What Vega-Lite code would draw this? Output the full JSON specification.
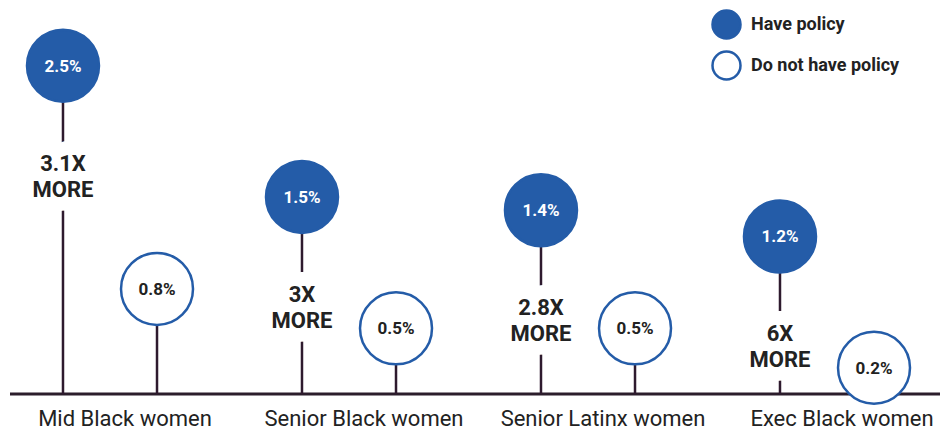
{
  "$schema": "https://vega.github.io/schema/vega-lite/v6.json",
  "width": 930,
  "height": 394,
  "autosize": {"type": "none"},
  "padding": {"left": 10, "top": 0, "right": 2, "bottom": 41},
  "config": {"view": {"stroke": null}, "font": "Roboto"},
  "data": {
    "values": [
      {"group": "Mid Black women", "policy": "Have policy", "value": 2.5, "label": "2.5%", "more": "3.1X\nMORE"},
      {"group": "Mid Black women", "policy": "Do not have policy", "value": 0.8, "label": "0.8%"},
      {"group": "Senior Black women", "policy": "Have policy", "value": 1.5, "label": "1.5%", "more": "3X\nMORE"},
      {"group": "Senior Black women", "policy": "Do not have policy", "value": 0.5, "label": "0.5%"},
      {"group": "Senior Latinx women", "policy": "Have policy", "value": 1.4, "label": "1.4%", "more": "2.8X\nMORE"},
      {"group": "Senior Latinx women", "policy": "Do not have policy", "value": 0.5, "label": "0.5%"},
      {"group": "Exec Black women", "policy": "Have policy", "value": 1.2, "label": "1.2%", "more": "6X\nMORE"},
      {"group": "Exec Black women", "policy": "Do not have policy", "value": 0.2, "label": "0.2%"}
    ]
  },
  "layer": [
    {
      "data": {"values": [{"base": 0}]},
      "mark": {"type": "rule", "color": "#2b1d2b", "strokeWidth": 3},
      "encoding": {
        "y": {"field": "base", "type": "quantitative", "scale": {"domain": [0, 2.85]}, "axis": null}
      }
    },
    {
      "mark": {"type": "rule", "color": "#2e1a2e", "strokeWidth": 2.5},
      "encoding": {
        "x": {
          "field": "group", "type": "nominal",
          "sort": ["Mid Black women", "Senior Black women", "Senior Latinx women", "Exec Black women"],
          "scale": {"range": [-19.5, 936.5], "paddingInner": 0, "paddingOuter": 0},
          "axis": {"title": null, "domain": false, "ticks": false, "labelFontSize": 22, "labelColor": "#222222", "labelPadding": 14, "labelOffset": 15, "labelAngle": 0, "labelFont": "Roboto", "labelLimit": 0}
        },
        "xOffset": {"field": "policy", "type": "nominal", "sort": ["Have policy", "Do not have policy"], "scale": {"paddingOuter": 0.271, "paddingInner": 0}},
        "y": {"field": "value", "type": "quantitative", "scale": {"domain": [0, 2.85]}, "axis": null},
        "y2": {"datum": 0}
      }
    },
    {
      "transform": [{"filter": "datum.more"}],
      "mark": {"type": "text", "fontSize": 22, "fontWeight": "bold", "lineBreak": "\n", "lineHeight": 26, "dy": 98, "fill": "white", "stroke": "white", "strokeWidth": 28, "strokeJoin": "round", "baseline": "middle"},
      "encoding": {
        "x": {"field": "group", "type": "nominal", "sort": ["Mid Black women", "Senior Black women", "Senior Latinx women", "Exec Black women"]},
        "xOffset": {"field": "policy", "type": "nominal", "sort": ["Have policy", "Do not have policy"]},
        "y": {"field": "value", "type": "quantitative"},
        "text": {"field": "more"}
      }
    },
    {
      "transform": [{"filter": "datum.more"}],
      "mark": {"type": "text", "fontSize": 22, "fontWeight": "bold", "lineBreak": "\n", "lineHeight": 26, "dy": 98, "fill": "#222222", "baseline": "middle"},
      "encoding": {
        "x": {"field": "group", "type": "nominal", "sort": ["Mid Black women", "Senior Black women", "Senior Latinx women", "Exec Black women"]},
        "xOffset": {"field": "policy", "type": "nominal", "sort": ["Have policy", "Do not have policy"]},
        "y": {"field": "value", "type": "quantitative"},
        "text": {"field": "more"}
      }
    },
    {
      "mark": {"type": "point", "filled": true, "size": 5184, "shape": "circle", "stroke": "#245ca8", "strokeWidth": 2.5, "opacity": 1},
      "encoding": {
        "x": {"field": "group", "type": "nominal", "sort": ["Mid Black women", "Senior Black women", "Senior Latinx women", "Exec Black women"]},
        "xOffset": {"field": "policy", "type": "nominal", "sort": ["Have policy", "Do not have policy"]},
        "y": {"field": "value", "type": "quantitative"},
        "fill": {
          "field": "policy", "type": "nominal",
          "scale": {"domain": ["Have policy", "Do not have policy"], "range": ["#245ca8", "#ffffff"]},
          "legend": {"title": null, "orient": "none", "legendX": 701, "legendY": 9, "symbolType": "circle", "symbolSize": 784, "symbolStrokeColor": "#245ca8", "symbolStrokeWidth": 2.5, "symbolOpacity": 1, "labelFont": "Roboto", "labelFontSize": 18, "labelFontWeight": "bold", "labelColor": "#222222", "labelOffset": 9, "rowPadding": 2}
        }
      }
    },
    {
      "mark": {"type": "text", "fontSize": 17, "fontWeight": "bold", "baseline": "middle", "dy": 1},
      "encoding": {
        "x": {"field": "group", "type": "nominal", "sort": ["Mid Black women", "Senior Black women", "Senior Latinx women", "Exec Black women"]},
        "xOffset": {"field": "policy", "type": "nominal", "sort": ["Have policy", "Do not have policy"]},
        "y": {"field": "value", "type": "quantitative"},
        "text": {"field": "label"},
        "color": {"condition": {"test": "datum.policy == 'Have policy'", "value": "#ffffff"}, "value": "#222222"}
      }
    }
  ]
}
